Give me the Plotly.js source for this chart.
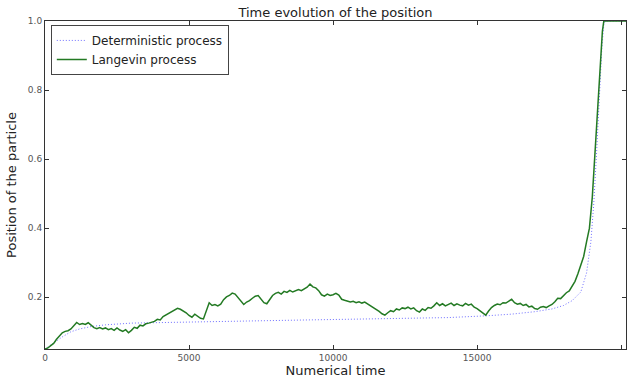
<!DOCTYPE html>
<html>
<head>
<meta charset="utf-8">
<script src="https://cdn.plot.ly/plotly-3.0.1.min.js"></script>
<style>html,body{margin:0;padding:0;background:#fff;}#chart{width:628px;height:380px;}</style>
</head>
<body>
<div id="chart"></div>
<script>
// Langevin process
const langevinTime = [
0,100,200,300,400,500,600,700,800,900,
1000,1100,1200,1300,1400,1500,1600,1700,1800,1900,
2000,2100,2200,2300,2400,2500,2600,2700,2800,2900,
3000,3100,3200,3300,3400,3500,3600,3700,3800,3900,
4000,4100,4200,4300,4400,4500,4600,4700,4800,4900,
5000,5100,5200,5300,5400,5500,5600,5700,5800,5900,
6000,6100,6200,6300,6400,6500,6600,6700,6800,6900,
7000,7100,7200,7300,7400,7500,7600,7700,7800,7900,
8000,8100,8200,8300,8400,8500,8600,8700,8800,8900,
9000,9100,9200,9300,9400,9500,9600,9700,9800,9900,
10000,10100,10200,10300,10400,10500,10600,10700,10800,10900,
11000,11100,11200,11300,11400,11500,11600,11700,11800,11900,
12000,12100,12200,12300,12400,12500,12600,12700,12800,12900,
13000,13100,13200,13300,13400,13500,13600,13700,13800,13900,
14000,14100,14200,14300,14400,14500,14600,14700,14800,14900,
15000,15100,15200,15300,15400,15500,15600,15700,15800,15900,
16000,16100,16200,16300,16400,16500,16600,16700,16800,16900,
17000,17100,17200,17300,17400,17500,17600,17700,17800,17900,
18000,18100,18200,18300,18400,18500,18600,18700,18800,18900,
19000,19050,19100,19150,19200,19250,19300,19350,19400,19600,20200
];
const langevin = [
0.050,0.053,0.060,0.066,0.078,0.088,0.097,0.101,0.103,0.108,
0.117,0.127,0.121,0.124,0.121,0.126,0.119,0.112,0.109,0.112,
0.108,0.111,0.106,0.109,0.104,0.111,0.105,0.101,0.106,0.097,
0.104,0.113,0.110,0.119,0.117,0.123,0.125,0.128,0.130,0.136,
0.134,0.144,0.149,0.153,0.158,0.163,0.168,0.165,0.161,0.155,
0.147,0.142,0.151,0.145,0.139,0.137,0.158,0.184,0.176,0.179,
0.175,0.180,0.193,0.201,0.205,0.212,0.209,0.199,0.188,0.179,
0.186,0.190,0.197,0.203,0.205,0.193,0.184,0.181,0.193,0.205,
0.211,0.214,0.209,0.217,0.214,0.220,0.215,0.219,0.222,0.219,
0.225,0.229,0.238,0.230,0.227,0.219,0.207,0.203,0.209,0.205,
0.207,0.211,0.206,0.194,0.191,0.189,0.186,0.188,0.184,0.187,
0.183,0.186,0.181,0.174,0.170,0.164,0.159,0.152,0.148,0.155,
0.161,0.158,0.166,0.163,0.169,0.167,0.171,0.166,0.169,0.161,
0.157,0.166,0.162,0.170,0.168,0.175,0.184,0.176,0.181,0.175,
0.180,0.183,0.176,0.181,0.177,0.175,0.182,0.177,0.180,0.171,
0.167,0.161,0.154,0.148,0.160,0.170,0.176,0.180,0.178,0.184,
0.183,0.188,0.194,0.184,0.180,0.182,0.176,0.179,0.172,0.174,
0.167,0.165,0.171,0.173,0.170,0.175,0.179,0.187,0.197,0.196,
0.204,0.213,0.218,0.234,0.246,0.268,0.290,0.318,0.360,0.400,
0.490,0.560,0.630,0.700,0.770,0.840,0.910,0.970,1.000,1.000,1.000
];
// Deterministic process
const detTime = [0,300,600,900,1200,1600,2100,3000,4000,5000,7000,9000,11000,12500,14000,15300,16200,17000,17600,18000,18300,18600,18800,18950,19050,19150,19250,19330,19400,19450,20200];
const deterministic = [0.050,0.068,0.085,0.100,0.108,0.115,0.120,0.125,0.127,0.129,0.131,0.134,0.136,0.138,0.141,0.146,0.151,0.158,0.166,0.176,0.190,0.215,0.270,0.360,0.470,0.620,0.790,0.920,0.990,1.000,1.000];

const xTicks = [0,5000,10000,15000,20000];
const yTicks = [0.2,0.4,0.6,0.8,1.0];
const yTickText = ['0.2','0.4','0.6','0.8','1.0'];

const traces = [
  {x: detTime, y: deterministic, type:'scatter', mode:'lines', name:'Deterministic process',
   line:{color:'#7070ff', width:1, dash:'1px,2px'}},
  {x: langevinTime, y: langevin, type:'scatter', mode:'lines', name:'Langevin process',
   line:{color:'#237a23', width:1.5}}
];

const axisCommon = {
  showline:true, linecolor:'#333', linewidth:1, mirror:'ticks',
  ticks:'inside', ticklen:4, tickcolor:'#333', showgrid:false, zeroline:false,
  tickfont:{family:'DejaVu Sans', size:9, color:'#555'}
};

const layout = {
  width:628, height:380,
  margin:{l:45, r:2, t:21, b:31},
  paper_bgcolor:'#fff', plot_bgcolor:'#fff',
  font:{family:'DejaVu Sans', color:'#222'},
  title:{text:'Time evolution of the position', font:{family:'DejaVu Sans', size:13, color:'#222'},
         x:0.5, xref:'paper', y:1-12/380, yref:'container', yanchor:'middle'},
  xaxis:Object.assign({}, axisCommon, {range:[0,20170], tickvals:xTicks, ticktext:xTicks.map(String),
         title:{text:'Numerical time', font:{family:'DejaVu Sans', size:13, color:'#222'}, standoff:4}}),
  yaxis:Object.assign({}, axisCommon, {range:[0.05,1.0], tickvals:yTicks, ticktext:yTickText,
         title:{text:'Position of the particle', font:{family:'DejaVu Sans', size:13, color:'#222'}, standoff:8}}),
  showlegend:true,
  legend:{x:0.01, y:0.988, xanchor:'left', yanchor:'top', bgcolor:'#fff', bordercolor:'#444', borderwidth:1,
          font:{family:'DejaVu Sans', size:12, color:'#222'}, tracegroupgap:0}
};

Plotly.newPlot('chart', traces, layout, {displayModeBar:false, staticPlot:true});
</script>
</body>
</html>
